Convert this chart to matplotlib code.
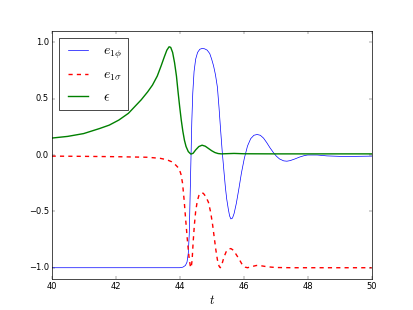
import matplotlib
matplotlib.use("Agg")
import matplotlib.pyplot as plt

# values
t_eps = [40, 40.5, 41, 41.5, 41.8, 42.1, 42.4, 42.6, 42.8, 43.0, 43.15, 43.3, 43.42,
         43.52, 43.6, 43.67, 43.72, 43.78, 43.84, 43.9, 43.95, 44.0, 44.05, 44.1, 44.15,
         44.2, 44.27, 44.35, 44.42, 44.5, 44.6, 44.7, 44.8, 44.9, 45.0, 45.1, 45.2,
         45.3, 45.5, 45.7, 46, 47, 48, 49, 50]
eps = [0.15, 0.165, 0.19, 0.235, 0.265, 0.31, 0.37, 0.43, 0.49, 0.56, 0.62, 0.70, 0.79,
       0.87, 0.93, 0.96, 0.955, 0.91, 0.82, 0.70, 0.56, 0.43, 0.31, 0.21, 0.13,
       0.075, 0.03, 0.008, 0.015, 0.045, 0.075, 0.087, 0.078, 0.058, 0.038, 0.022, 0.013,
       0.01, 0.012, 0.014, 0.011, 0.01, 0.01, 0.01, 0.01]

t_phi = [40, 44.0, 44.1, 44.18, 44.23, 44.27, 44.3, 44.32, 44.34, 44.36, 44.38, 44.41,
         44.45, 44.5, 44.56, 44.63, 44.7, 44.78, 44.86, 44.94, 45.0, 45.06, 45.12, 45.18,
         45.23, 45.28, 45.33, 45.39, 45.43, 45.47, 45.52, 45.56, 45.6, 45.65, 45.7,
         45.77, 45.85, 45.93, 46.02, 46.12, 46.22, 46.32, 46.42, 46.52, 46.62, 46.72,
         46.82, 46.92, 47.02, 47.12, 47.25, 47.35, 47.45, 47.6, 47.75, 47.9, 48.0,
         48.3, 48.6, 49.0, 49.5, 50]
e_phi = [-1.0, -1.0, -0.995, -0.98, -0.95, -0.87, -0.7, -0.45, -0.2, 0.05, 0.3, 0.55,
         0.74, 0.85, 0.91, 0.938, 0.945, 0.942, 0.93, 0.9, 0.85, 0.79, 0.71, 0.60,
         0.42, 0.22, 0.03, -0.165, -0.29, -0.39, -0.48, -0.54, -0.567, -0.56, -0.52,
         -0.43, -0.30, -0.16, -0.03, 0.08, 0.145, 0.175, 0.182, 0.175, 0.15, 0.11,
         0.065, 0.025, -0.01, -0.035, -0.052, -0.055, -0.05, -0.035, -0.018, -0.005, 0.0,
         0.0, -0.008, -0.012, -0.012, -0.01]

t_sig = [40, 41, 42, 43, 43.4, 43.6, 43.75, 43.88, 43.98, 44.04, 44.09, 44.14, 44.19,
         44.24, 44.29, 44.33, 44.36, 44.39, 44.42, 44.46, 44.5, 44.55, 44.6, 44.67,
         44.74, 44.82, 44.9, 44.97, 45.03, 45.08, 45.13, 45.18, 45.23, 45.27, 45.32,
         45.38, 45.45, 45.52, 45.6, 45.68, 45.76, 45.85, 45.95, 46.05, 46.12, 46.25,
         46.4, 46.55, 46.75, 47.0, 47.5, 50]
e_sig = [-0.01, -0.012, -0.015, -0.02, -0.03, -0.042, -0.06, -0.09, -0.12, -0.17, -0.25,
         -0.40, -0.58, -0.75, -0.9, -0.98, -1.0, -0.93, -0.78, -0.62, -0.50, -0.41,
         -0.36, -0.335, -0.34, -0.37, -0.42, -0.51, -0.62, -0.73, -0.84, -0.93, -0.985,
         -1.0, -0.97, -0.91, -0.86, -0.835, -0.83, -0.845, -0.88, -0.92, -0.97, -0.995,
         -1.0, -0.99, -0.98, -0.983, -0.992, -0.998, -1.0, -1.0]

plt.style.use('classic')
fig = plt.figure(figsize=(8.26, 6.2), dpi=50)
ax = fig.add_subplot(111)
ax.plot(t_phi, e_phi, 'b-', lw=1, label=r'$e_{1\phi}$')
ax.plot(t_sig, e_sig, 'r--', lw=2, label=r'$e_{1\sigma}$')
ax.plot(t_eps, eps, 'g-', lw=2, label=r'$\epsilon$')
ax.set_xlim(40, 50)
ax.set_ylim(-1.1, 1.1)
ax.set_xlabel('$t$', fontsize=18)
ax.legend(loc='upper left', fontsize=20)
fig.savefig('out.png', dpi=50)
